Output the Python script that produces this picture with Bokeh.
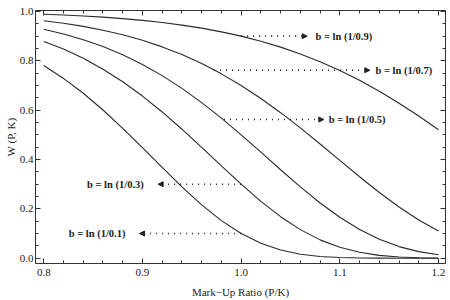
from bokeh.plotting import figure
from bokeh.models import Range1d, LinearAxis, FixedTicker, Arrow, NormalHead, ColumnDataSource
from bokeh.core.properties import value
from bokeh.embed import file_html
from bokeh.resources import INLINE

# Mark-up ratio P/K
x = [0.80, 0.82, 0.84, 0.86, 0.88, 0.90, 0.92, 0.94, 0.96, 0.98, 1.00,
     1.02, 1.04, 1.06, 1.08, 1.10, 1.12, 1.14, 1.16, 1.18, 1.20]

# W(P, K) for each b = ln(1/q)
w_q09 = [0.9888, 0.9856, 0.9817, 0.9770, 0.9711, 0.9639, 0.9553, 0.9448, 0.9324, 0.9175, 0.9000,
         0.8795, 0.8556, 0.8281, 0.7966, 0.7609, 0.7209, 0.6767, 0.6283, 0.5761, 0.5208]
w_q07 = [0.9624, 0.9522, 0.9395, 0.9241, 0.9054, 0.8831, 0.8565, 0.8252, 0.7889, 0.7472, 0.7000,
         0.6474, 0.5898, 0.5280, 0.4630, 0.3965, 0.3303, 0.2665, 0.2073, 0.1546, 0.1099]
w_q05 = [0.9283, 0.9091, 0.8858, 0.8578, 0.8244, 0.7853, 0.7400, 0.6884, 0.6308, 0.5676, 0.5000,
         0.4296, 0.3584, 0.2890, 0.2239, 0.1657, 0.1162, 0.0766, 0.0470, 0.0266, 0.0137]
w_q03 = [0.8787, 0.8475, 0.8101, 0.7661, 0.7151, 0.6572, 0.5928, 0.5228, 0.4491, 0.3739, 0.3000,
         0.2305, 0.1683, 0.1158, 0.0743, 0.0440, 0.0238, 0.0115, 0.0049, 0.0018, 0.0006]
w_q01 = [0.7810, 0.7287, 0.6685, 0.6008, 0.5266, 0.4480, 0.3678, 0.2893, 0.2164, 0.1524, 0.1000,
         0.0604, 0.0331, 0.0162, 0.0069, 0.0026, 0.0008, 0.0002, 0.0000, 0.0000, 0.0000]
series = [w_q09, w_q07, w_q05, w_q03, w_q01]

x_ticks = [0.8, 0.9, 1.0, 1.1, 1.2]
y_ticks = [0.0, 0.2, 0.4, 0.6, 0.8, 1.0]

# annotation labels: text, arrow start (x, y), arrow tip x, text x, side
labels = ["b = ln (1/0.9)", "b = ln (1/0.7)", "b = ln (1/0.5)", "b = ln (1/0.3)", "b = ln (1/0.1)"]
arrow_x0 = [1.0, 0.9725, 0.9826, 1.0, 1.0]
arrow_y = [0.9, 0.762, 0.562, 0.3, 0.1]
arrow_x1 = [1.067, 1.1304, 1.0838, 0.9159, 0.8970]
text_x = [1.0753, 1.1361, 1.0888, 0.9013, 0.8828]
text_align = ["left", "left", "left", "right", "right"]

SERIF = "Liberation Serif"

p = figure(width=450, height=300,
           x_range=Range1d(0.7916, 1.2071), y_range=Range1d(-0.0215, 1.004),
           min_border_left=35, min_border_right=5, min_border_top=10, min_border_bottom=37,
           toolbar_location=None, output_backend="svg", x_axis_location=None, y_axis_location=None)
p.xgrid.grid_line_color = None
p.ygrid.grid_line_color = None
p.outline_line_color = "#333333"
p.background_fill_color = "white"
p.border_fill_color = "white"

for ys in series:
    p.line(x, ys, line_color="#2a2a2a", line_width=1.1)

def make_axis(ticks, minor, labelled):
    ax = LinearAxis(ticker=FixedTicker(ticks=ticks, minor_ticks=minor))
    ax.major_tick_in = 5
    ax.major_tick_out = 0
    ax.minor_tick_in = 3
    ax.minor_tick_out = 0
    ax.axis_line_color = "#333333"
    ax.major_tick_line_color = "#333333"
    ax.minor_tick_line_color = "#333333"
    ax.major_label_text_font = SERIF
    ax.major_label_text_font_size = "11px"
    ax.major_label_text_color = "#222222"
    ax.axis_label_text_font = SERIF
    ax.axis_label_text_font_style = "normal"
    ax.axis_label_text_font_size = "11px"
    ax.axis_label_text_color = "#222222"
    if labelled:
        ax.major_label_overrides = {t: f"{t:.1f}" for t in ticks}
    else:
        ax.major_label_overrides = {t: "" for t in ticks}
        ax.major_label_standoff = 0
    return ax

x_minor = [round(0.78 + 0.02 * i, 2) for i in range(23)]
y_minor = [round(-0.05 + 0.05 * i, 2) for i in range(23)]

bx = make_axis(x_ticks, x_minor, True)
bx.axis_label = "Mark\u2212Up Ratio (P/K)"
bx.major_label_standoff = 5
bx.axis_label_standoff = 7
p.add_layout(bx, "below")

ly = make_axis(y_ticks, y_minor, True)
ly.axis_label = "W (P, K)"
ly.major_label_standoff = 2
ly.axis_label_standoff = 0
p.add_layout(ly, "left")

p.add_layout(make_axis(x_ticks, x_minor, False), "above")
p.add_layout(make_axis(y_ticks, y_minor, False), "right")

for i in range(len(labels)):
    p.add_layout(Arrow(x_start=arrow_x0[i], y_start=arrow_y[i], x_end=arrow_x1[i], y_end=arrow_y[i],
                       line_color="#222222", line_width=1.6, line_dash="1 5",
                       end=NormalHead(size=5, fill_color="#222222", line_color="#222222", line_width=1)))

src = ColumnDataSource(dict(x=text_x, y=arrow_y, t=labels, a=text_align))
p.text(x="x", y="y", text="t", text_align="a", source=src, text_baseline="middle",
       text_font=value(SERIF), text_font_style="bold", text_font_size="10.5px", text_color="#222222")

open("out.html", "w").write(file_html(p, INLINE))
